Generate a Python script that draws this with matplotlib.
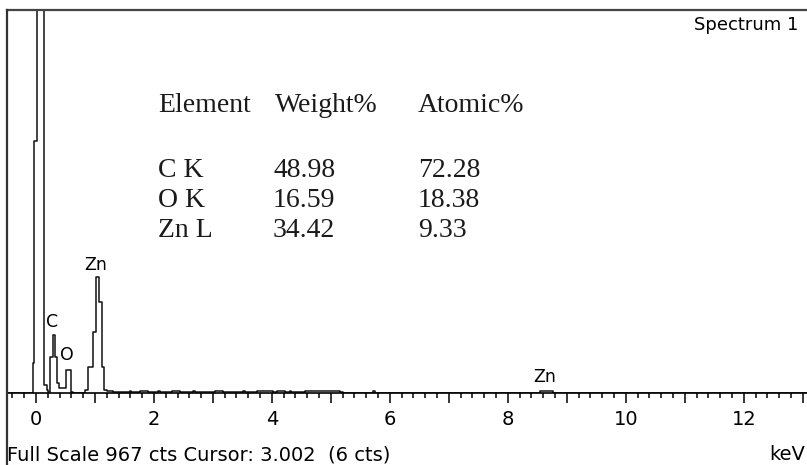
import matplotlib
matplotlib.use("Agg")
from matplotlib import pyplot as plt
from matplotlib.lines import Line2D
from matplotlib.ticker import MultipleLocator, FuncFormatter

# spectrum, step profile (keV, counts)
energy_kev = [-0.49, -0.05, -0.034, 0.017, 0.136, 0.186, 0.208, 0.237, 0.293, 0.322,
              0.361, 0.39, 0.503, 0.593, 0.627, 0.83, 0.881, 0.966, 1.017, 1.076,
              1.119, 1.161, 1.2, 1.3, 1.59, 1.62, 1.76, 1.9, 2.07, 2.1, 2.3, 2.44,
              2.66, 2.69, 3.03, 3.17, 3.51, 3.54, 3.75, 4.02, 4.08, 4.22, 4.3, 4.33,
              4.56, 5.15, 5.2, 5.71, 5.74, 8.54, 8.76, 13.07]
counts = [0, 76, 636, 3000, 20, 8, 3, 91, 146, 91,
          25, 13, 58, 3, 1, 8, 66, 154, 293, 230,
          66, 8, 4, 2, 5, 2, 5, 2, 5, 2, 5, 2,
          5, 2, 6, 2, 5, 2, 4, 2, 4, 2, 5, 2,
          4, 2, 1, 4, 1, 5, 1, 1]

full_scale = 967
x_min, x_max = -0.49, 13.07

peak_labels = ["C", "O", "Zn", "Zn"]
peak_kev = [0.27, 0.525, 1.02, 8.63]
peak_label_cts = [167, 83, 311, 28]

elements = ["C K", "O K", "Zn L"]
weight_pct = ["48.98", "16.59", "34.42"]
atomic_pct = ["72.28", "18.38", "9.33"]

fig = plt.figure(figsize=(8.07, 4.65), dpi=100)
W, H = 807, 465
ax = fig.add_axes([7 / W, (H - 393) / H, 800 / W, 383 / H])

ax.plot(energy_kev, counts, drawstyle="steps-post", color="#111111", lw=1.1)
ax.set_xlim(x_min, x_max)
ax.set_ylim(0, full_scale)

for side in ["right", "left"]:
    ax.spines[side].set_visible(False)
ax.spines["top"].set_color("#444444")
ax.spines["top"].set_linewidth(1.6)
ax.spines["bottom"].set_color("black")
ax.spines["bottom"].set_linewidth(1.2)

ax.xaxis.set_major_locator(MultipleLocator(1))
ax.xaxis.set_minor_locator(MultipleLocator(0.2))
ax.xaxis.set_major_formatter(FuncFormatter(lambda v, p: "%d" % v if round(v) % 2 == 0 else ""))
ax.tick_params(axis="x", which="major", direction="out", length=7, width=1.1, pad=5,
               labelsize=14, color="black")
ax.tick_params(axis="x", which="minor", direction="out", length=3.6, width=1.1, color="black")
ax.set_yticks([])

# left frame line runs down to the bottom edge
fig.add_artist(Line2D([7 / W, 7 / W], [0, (H - 10) / H], color="#333333", lw=1.6))

for lab, e, c in zip(peak_labels, peak_kev, peak_label_cts):
    ax.text(e, c, lab, ha="center", va="baseline", fontsize=12.5)

serif = dict(family="Liberation Serif", fontsize=20, color="#1a1a1a", va="baseline")
fig.text(158 / W, (H - 112) / H, "Element", **serif)
fig.text(275 / W, (H - 112) / H, "Weight%", **serif)
fig.text(418 / W, (H - 112) / H, "Atomic%", **serif)
for i, (el, w, a) in enumerate(zip(elements, weight_pct, atomic_pct)):
    y = (H - 177 - 30 * i) / H
    fig.text(158 / W, y, el, **serif)
    fig.text(273 / W, y, w, **serif)
    fig.text(418 / W, y, a, **serif)

fig.text(798 / W, (H - 30) / H, "Spectrum 1", ha="right", va="baseline", fontsize=13)
fig.text(7 / W, (H - 460) / H, "Full Scale %d cts Cursor: 3.002  (6 cts)" % full_scale,
         ha="left", va="baseline", fontsize=14)
fig.text(805 / W, (H - 460) / H, "keV", ha="right", va="baseline", fontsize=14)

fig.savefig("out.png", dpi=100)
